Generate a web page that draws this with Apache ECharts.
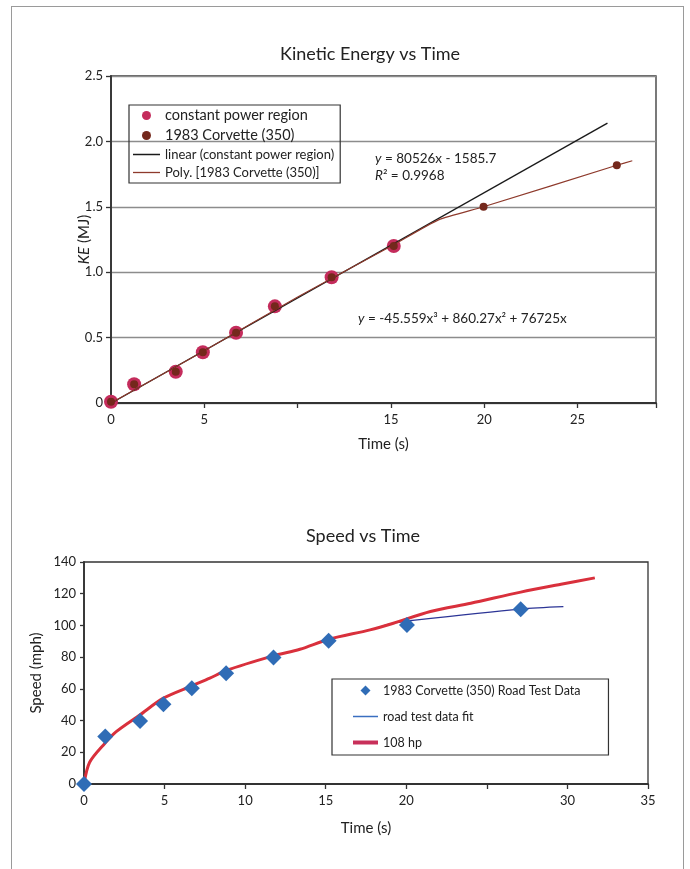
<!DOCTYPE html>
<html>
<head>
<meta charset="utf-8">
<title>Kinetic Energy / Speed vs Time</title>
<script src="https://cdn.jsdelivr.net/npm/echarts@6/dist/echarts.min.js"></script>
<style>
    html, body { margin: 0; padding: 0; background: #fff; overflow: hidden; }
    #frame { position: absolute; left: 11px; top: 6px; width: 671px; height: 870px; border: 1.5px solid #9a9a9a; border-bottom: none; }
    #chart { position: absolute; left: 0; top: 0; width: 690px; height: 869px; }
</style>
</head>
<body>
<div id="frame"></div>
<div id="chart"></div>
<script>
// 字体
const FONT = 'Lato, "Open Sans", sans-serif';

// 动能图：恒功率区数据点 (时间 s, 动能 MJ)
const cpTime = [0, 1.24, 3.47, 4.92, 6.70, 8.78, 11.82, 15.15];
const cpKE = [0.01, 0.143, 0.239, 0.388, 0.537, 0.739, 0.961, 1.20];

// 1983 Corvette (350) 数据点
const vetteTime = [0, 1.24, 3.47, 4.92, 6.70, 8.78, 11.82, 15.15, 19.96, 27.1];
const vetteKE = [0.01, 0.143, 0.239, 0.388, 0.537, 0.739, 0.961, 1.20, 1.50, 1.817];

// 线性趋势线
const linTime = [0, 26.6];
const linKE = [-0.002, 2.14];

// 多项式趋势线
const polyTime = [0, 5, 10, 15.15, 17.55, 19.96, 27.1, 27.93];
const polyKE = [0, 0.40, 0.81, 1.21, 1.40, 1.50, 1.817, 1.852];

// 速度图：路试数据
const speedTime = [0, 1.32, 3.48, 4.93, 6.69, 8.82, 11.76, 15.18, 20.04, 27.1];
const speedMph = [0, 30, 39.7, 50.3, 60.4, 69.9, 79.7, 90.4, 100.3, 110.2];

// 路试拟合曲线（20 s 之前被 108 hp 曲线盖住）
const fitTime = [0, 0.35, 1.3, 2.0, 3.46, 4.9, 6.67, 7.81, 8.8, 11.74, 13.4, 15.2, 17.75, 19.2, 20.35, 27.1, 29.75];
const fitMph = [0, 13.7, 25.7, 33, 43.5, 54, 61.8, 66.7, 71.5, 80.8, 85, 91.3, 97.2, 101.4, 103.1, 110.3, 111.8];

// 108 hp 曲线
const hpTime = [0, 0.35, 1.3, 2.0, 3.46, 4.9, 6.67, 7.81, 8.8, 11.74, 13.4, 15.2, 17.75, 19.2, 21.5, 24, 27.1, 29.6, 31.7];
const hpMph = [0, 13.7, 25.7, 33, 43.5, 54, 61.8, 66.7, 71.5, 80.8, 85, 91.3, 97.2, 101.4, 108.8, 114, 121, 126, 130];

// 坐标轴刻度标签
const keTicksX = [0, 5, 15, 20, 25];
const speedTicksX = [0, 5, 10, 15, 20, 30, 35];

const pairs = (xs, ys) => xs.map((x, i) => [x, ys[i]]);

// 图例图标：线段（长度 len，粗细 w）、菱形
const lineIcon = (len, w) => `path://M0,0 H${len} V${w} H0 Z`;
const diamondIcon = 'path://M0,5 L5,0 L10,5 L5,10 Z';

const chart = echarts.init(document.getElementById('chart'), null, { renderer: 'canvas' });

const axisLineStyle = { color: '#333', width: 1.8 };
const labelStyle = { color: '#222', fontFamily: FONT };
const eqRich = { i: { fontStyle: 'italic', fontSize: 13.5, fontFamily: FONT, fill: '#222' } };

const option = {
    animation: false,
    backgroundColor: 'transparent',
    textStyle: { fontFamily: FONT },
    title: [
        {
            text: 'Kinetic Energy vs Time',
            left: 275, top: 40,
            textStyle: { fontFamily: FONT, fontSize: 18, fontWeight: 'normal', color: '#222' }
        },
        {
            text: 'Speed vs Time',
            left: 301, top: 522,
            textStyle: { fontFamily: FONT, fontSize: 18, fontWeight: 'normal', color: '#222' }
        }
    ],
    legend: [
        {
            orient: 'vertical',
            left: 129, top: 105,
            itemWidth: 27, itemHeight: 9, itemGap: 5,
            symbolKeepAspect: true,
            padding: [3, 6, 4, 4],
            borderColor: '#333', borderWidth: 1.2,
            textStyle: { color: '#222', fontFamily: FONT },
            data: [
                { name: 'constant power region', textStyle: { fontSize: 14.5 } },
                { name: '1983 Corvette (350)', textStyle: { fontSize: 14.5 } },
                { name: 'linear (constant power region)', icon: lineIcon(27, 1.5),
                  itemStyle: { color: '#1a1a1a', borderWidth: 0 }, textStyle: { fontSize: 13 } },
                { name: 'Poly. [1983 Corvette (350)]', icon: lineIcon(27, 1.3),
                  itemStyle: { color: '#8e3a2c', borderWidth: 0 }, textStyle: { fontSize: 13 } }
            ]
        },
        {
            orient: 'vertical',
            left: 332, top: 679,
            itemWidth: 25, itemHeight: 10, itemGap: 13,
            symbolKeepAspect: true,
            padding: [5, 28, 6, 21],
            borderColor: '#333', borderWidth: 1.2,
            textStyle: { color: '#222', fontFamily: FONT, fontSize: 12.5 },
            data: [
                { name: '1983 Corvette (350) Road Test Data', icon: diamondIcon,
                  itemStyle: { color: '#2f6cb6', borderWidth: 0 } },
                { name: 'road test data fit', icon: lineIcon(25, 1.5),
                  itemStyle: { color: '#3a6fc0', borderWidth: 0 } },
                { name: '108 hp', icon: lineIcon(25, 4),
                  itemStyle: { color: '#c8305a', borderWidth: 0 } }
            ]
        }
    ],
    grid: [
        { left: 111, top: 76, width: 545, height: 327, show: true, borderColor: '#333', borderWidth: 1.3 },
        { left: 84, top: 562, width: 564, height: 222, show: true, borderColor: '#333', borderWidth: 1.3 }
    ],
    xAxis: [
        {
            gridIndex: 0, type: 'value', min: 0, max: 29.2, interval: 5,
            name: 'Time (s)', nameLocation: 'middle', nameGap: 34, nameMoveOverlap: false,
            nameTextStyle: { fontSize: 15, color: '#222', fontFamily: FONT },
            axisLine: { lineStyle: axisLineStyle },
            axisTick: { length: 5, lineStyle: { color: '#333', width: 1.3 } },
            axisLabel: Object.assign({ fontSize: 13, margin: 10,
                formatter: v => keTicksX.includes(v) ? String(v) : '' }, labelStyle),
            splitLine: { show: false }
        },
        {
            gridIndex: 1, type: 'value', min: 0, max: 35, interval: 5,
            name: 'Time (s)', nameLocation: 'middle', nameGap: 37, nameMoveOverlap: false,
            nameTextStyle: { fontSize: 15, color: '#222', fontFamily: FONT },
            axisLine: { lineStyle: axisLineStyle },
            axisTick: { length: 5, lineStyle: { color: '#333', width: 1.3 } },
            axisLabel: Object.assign({ fontSize: 13, margin: 10,
                formatter: v => speedTicksX.includes(v) ? String(v) : '' }, labelStyle),
            splitLine: { show: false }
        }
    ],
    yAxis: [
        {
            gridIndex: 0, type: 'value', min: 0, max: 2.5, interval: 0.5,
            name: '{i|KE} (MJ)', nameLocation: 'middle', nameGap: 19, nameMoveOverlap: false,
            nameTextStyle: {
                fontSize: 15, color: '#222', fontFamily: FONT,
                rich: { i: { fontStyle: 'italic', fontSize: 15, fontFamily: FONT, color: '#222' } }
            },
            axisLine: { show: true, lineStyle: axisLineStyle },
            axisTick: { show: true, length: 5, lineStyle: { color: '#333', width: 1.3 } },
            axisLabel: Object.assign({ fontSize: 13, margin: 8,
                formatter: v => v === 0 ? '0' : v.toFixed(1) }, labelStyle),
            splitLine: { show: true, lineStyle: { color: '#8c8c8c', width: 1.3 } }
        },
        {
            gridIndex: 1, type: 'value', min: 0, max: 140, interval: 20,
            name: 'Speed (mph)', nameLocation: 'middle', nameGap: 40, nameMoveOverlap: false,
            nameTextStyle: { fontSize: 15, color: '#222', fontFamily: FONT },
            axisLine: { show: true, lineStyle: axisLineStyle },
            axisTick: { show: true, length: 4, lineStyle: { color: '#333', width: 1.3 } },
            axisLabel: Object.assign({ fontSize: 13, margin: 8 }, labelStyle),
            splitLine: { show: false }
        }
    ],
    graphic: [
        {
            type: 'text', left: 375, top: 152,
            style: { text: '{i|y} = 80526x - 1585.7', rich: eqRich, fontSize: 13.5, fontFamily: FONT, fill: '#222' }
        },
        {
            type: 'text', left: 375, top: 169,
            style: { text: '{i|R}² = 0.9968', rich: eqRich, fontSize: 13.5, fontFamily: FONT, fill: '#222' }
        },
        {
            type: 'text', left: 358, top: 312,
            style: { text: '{i|y} = -45.559x³ + 860.27x² + 76725x', rich: eqRich, fontSize: 13.5, fontFamily: FONT, fill: '#222' }
        }
    ],
    series: [
        {
            name: 'constant power region', type: 'scatter',
            xAxisIndex: 0, yAxisIndex: 0, z: 2,
            symbol: 'circle', symbolSize: 14,
            itemStyle: { color: '#c42c5c', opacity: 1 },
            data: pairs(cpTime, cpKE)
        },
        {
            name: 'linear (constant power region)', type: 'line',
            xAxisIndex: 0, yAxisIndex: 0, z: 3,
            symbol: 'none', lineStyle: { color: '#1a1a1a', width: 1.4 },
            itemStyle: { color: '#1a1a1a' },
            data: pairs(linTime, linKE)
        },
        {
            name: 'Poly. [1983 Corvette (350)]', type: 'line',
            xAxisIndex: 0, yAxisIndex: 0, z: 4,
            symbol: 'none', smooth: 0.2, lineStyle: { color: '#8e3a2c', width: 1.1 },
            itemStyle: { color: '#8e3a2c' },
            data: pairs(polyTime, polyKE)
        },
        {
            name: '1983 Corvette (350)', type: 'scatter',
            xAxisIndex: 0, yAxisIndex: 0, z: 5,
            symbol: 'circle', symbolSize: 8,
            itemStyle: { color: '#74281c', opacity: 1 },
            data: pairs(vetteTime, vetteKE)
        },
        {
            name: 'road test data fit', type: 'line',
            xAxisIndex: 1, yAxisIndex: 1, z: 2,
            symbol: 'none', smooth: 0.3, lineStyle: { color: '#2c3596', width: 1.3 },
            itemStyle: { color: '#3a6fc0' },
            data: pairs(fitTime, fitMph)
        },
        {
            name: '108 hp', type: 'line',
            xAxisIndex: 1, yAxisIndex: 1, z: 3,
            symbol: 'none', smooth: 0.3, lineStyle: { color: '#d9303c', width: 3 },
            itemStyle: { color: '#c8305a' },
            data: pairs(hpTime, hpMph)
        },
        {
            name: '1983 Corvette (350) Road Test Data', type: 'scatter',
            xAxisIndex: 1, yAxisIndex: 1, z: 5,
            symbol: 'diamond', symbolSize: 16,
            itemStyle: { color: '#2f6cb6', opacity: 1 },
            data: pairs(speedTime, speedMph)
        }
    ]
};

chart.setOption(option);
window.addEventListener('resize', () => chart.resize());
</script>
</body>
</html>
